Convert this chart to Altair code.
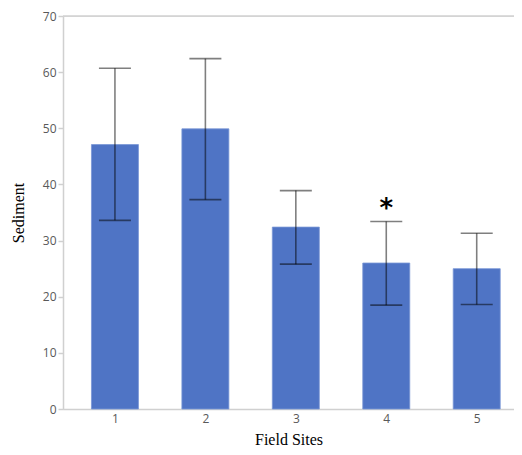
import altair as alt
import pandas as pd

sites = [1, 2, 3, 4, 5]
sediment = [47.1, 49.9, 32.4, 26.0, 25.0]
err_low = [33.6, 37.3, 25.8, 18.5, 18.6]
err_high = [60.7, 62.4, 38.9, 33.4, 31.3]
marker_site = [4]
marker_text = ["*"]
top_line = [70]

df = pd.DataFrame({"site": sites, "sediment": sediment, "lo": err_low, "hi": err_high})
df_mark = pd.DataFrame({"site": marker_site, "text": marker_text,
                        "hi": [err_high[sites.index(s)] for s in marker_site]})
df_top = pd.DataFrame({"y": top_line})

xscale = alt.Scale(domain=[0.481, 5.357], nice=False, zero=False)
yscale = alt.Scale(domain=[0, 70], nice=False)

xaxis = alt.Axis(values=sites, format="d", ticks=False, grid=False, title="Field Sites",
                 labelFont="Open Sans", labelFontSize=12, labelColor="#595959", labelPadding=4,
                 titleFont="Liberation Serif", titleFontSize=16, titleFontWeight="normal",
                 titleColor="#000000", titlePadding=7,
                 domainColor="#d0d0d0", domainWidth=1.5)
yaxis = alt.Axis(values=list(range(0, 71, 10)), grid=False, title="Sediment",
                 labelFont="Open Sans", labelFontSize=12, labelColor="#595959", labelPadding=2,
                 tickSize=5, tickColor="#d0d0d0", tickWidth=1.5,
                 titleFont="Liberation Serif", titleFontSize=16, titleFontWeight="normal",
                 titleColor="#000000", titlePadding=16,
                 domainColor="#d0d0d0", domainWidth=1.5)

base = alt.Chart(df)

bars = base.mark_bar(size=47, color="#4F74C5", stroke="#7a97d6", strokeWidth=0.8).encode(
    x=alt.X("site:Q", scale=xscale, axis=xaxis),
    y=alt.Y("sediment:Q", scale=yscale, axis=yaxis),
)

errs = base.mark_errorbar(ticks=True, size=32, thickness=1.6, color="#000000",
                          opacity=0.5, orient="vertical").encode(
    x=alt.X("site:Q", scale=xscale),
    y=alt.Y("lo:Q", scale=yscale, title="Sediment"),
    y2="hi:Q",
)

top = alt.Chart(df_top).mark_rule(color="#d0d0d0", strokeWidth=1.5).encode(
    y=alt.Y("y:Q", scale=yscale),
)

star = alt.Chart(df_mark).mark_text(fontSize=26, fontWeight="bold", font="DejaVu Sans",
                                    color="#000000", baseline="alphabetic", dy=-4).encode(
    x=alt.X("site:Q", scale=xscale),
    y=alt.Y("hi:Q", scale=yscale),
    text="text:N",
)

chart = alt.layer(top, bars, errs, star).properties(
    width=451, height=393,
    autosize=alt.AutoSizeParams(type="none"),
    padding={"left": 55, "top": 8, "right": 0, "bottom": 40},
).configure_view(stroke=None).configure(background="white")

chart.save("out.html", embed_options={"renderer": "svg", "actions": False})
